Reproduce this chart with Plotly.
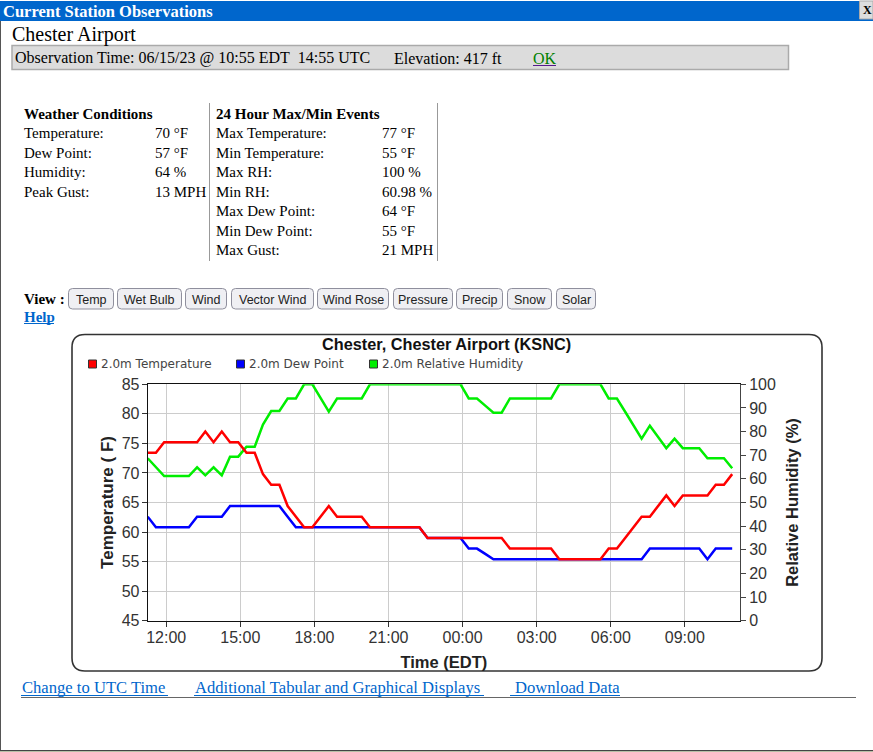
"""
Current station observations panel, Chester Airport (KSNC).
"""

import pandas as pd
import plotly.graph_objects as go

W, H = 873, 752

# -- Data -------------------------------------------------------------------
TIMES = pd.date_range("2023-06-14 11:15", periods=72, freq="20min")

TEMP = [73.4, 73.4, 75.2, 75.2, 75.2, 75.2, 75.2, 77, 75.2, 77, 75.2, 75.2,
        73.4, 73.4, 69.8, 68, 68, 64.4, 62.6, 60.8, 60.8, 62.6, 64.4, 62.6,
        62.6, 62.6, 62.6, 60.8, 60.8, 60.8, 60.8, 60.8, 60.8, 60.8, 59, 59,
        59, 59, 59, 59, 59, 59, 59, 59, 57.2, 57.2, 57.2, 57.2, 57.2, 57.2,
        55.4, 55.4, 55.4, 55.4, 55.4, 55.4, 57.2, 57.2, 59, 60.8, 62.6, 62.6,
        64.4, 66.2, 64.4, 66.2, 66.2, 66.2, 66.2, 68, 68, 69.8]

DEW = [62.6, 60.8, 60.8, 60.8, 60.8, 60.8, 62.6, 62.6, 62.6, 62.6, 64.4, 64.4,
       64.4, 64.4, 64.4, 64.4, 64.4, 62.6, 60.8, 60.8, 60.8, 60.8, 60.8, 60.8,
       60.8, 60.8, 60.8, 60.8, 60.8, 60.8, 60.8, 60.8, 60.8, 60.8, 59, 59,
       59, 59, 59, 57.2, 57.2, 56.3, 55.4, 55.4, 55.4, 55.4, 55.4, 55.4, 55.4,
       55.4, 55.4, 55.4, 55.4, 55.4, 55.4, 55.4, 55.4, 55.4, 55.4, 55.4, 55.4,
       57.2, 57.2, 57.2, 57.2, 57.2, 57.2, 57.2, 55.4, 57.2, 57.2, 57.2]

RH = [68.7, 65, 61.2, 61.2, 61.2, 61.2, 64.9, 61.5, 64.9, 61.5, 69.4, 69.4,
      73.6, 73.6, 83, 88.7, 88.7, 94, 94, 100, 100, 94, 88.4, 94,
      94, 94, 94, 100, 100, 100, 100, 100, 100, 100, 100, 100,
      100, 100, 100, 94, 94, 91, 88, 88, 94, 94, 94, 94, 94, 94,
      100, 100, 100, 100, 100, 100, 94, 94, 88.4, 82.8, 77, 82.5,
      78, 73, 77, 73, 73, 73, 68.7, 68.7, 68.7, 64.5]

X_TICKS = ["2023-06-14 12:00", "2023-06-14 15:00", "2023-06-14 18:00",
           "2023-06-14 21:00", "2023-06-15 00:00", "2023-06-15 03:00",
           "2023-06-15 06:00", "2023-06-15 09:00"]

COND_LABELS = ["Temperature:", "Dew Point:", "Humidity:", "Peak Gust:"]
COND_VALUES = ["70 °F", "57 °F", "64 %", "13 MPH"]
EVENT_LABELS = ["Max Temperature:", "Min Temperature:", "Max RH:", "Min RH:",
                "Max Dew Point:", "Min Dew Point:", "Max Gust:"]
EVENT_VALUES = ["77 °F", "55 °F", "100 %", "60.98 %", "64 °F", "55 °F", "21 MPH"]
BUTTONS = ["Temp", "Wet Bulb", "Wind", "Vector Wind", "Wind Rose", "Pressure",
           "Precip", "Snow", "Solar"]

# Colours
RED = "#ff0000"
BLUE = "#0000ff"
GREEN = "#00ee00"
LINK = "#0066cc"
SERIF = "Liberation Serif"
SANS = "Liberation Sans"

# -- Helpers (pixel positions on the page) ------------------------------------
shapes = []
notes = []


def px(x):
    return x / W


def py(y):
    return 1 - y / H


def text(x, y, s, size=15, color="black", family=SERIF, anchor="left"):
    notes.append(dict(x=px(x), y=py(y), xref="paper", yref="paper", text=s,
                      showarrow=False, xanchor=anchor, yanchor="middle",
                      font=dict(size=size, color=color, family=family),
                      borderpad=0, borderwidth=0))


def rect(x0, y0, x1, y1, fill, line=None, width=1):
    shapes.append(dict(type="rect", xref="paper", yref="paper",
                       x0=px(x0), x1=px(x1), y0=py(y0), y1=py(y1),
                       fillcolor=fill, line=dict(color=line, width=width if line else 0),
                       layer="below"))


def hline(x0, x1, y, color, width=1):
    shapes.append(dict(type="line", xref="paper", yref="paper",
                       x0=px(x0), x1=px(x1), y0=py(y), y1=py(y),
                       line=dict(color=color, width=width)))


def vline(x, y0, y1, color, width=1):
    shapes.append(dict(type="line", xref="paper", yref="paper",
                       x0=px(x), x1=px(x), y0=py(y0), y1=py(y1),
                       line=dict(color=color, width=width)))


def round_box(x0, y0, x1, y1, r, fill, line, width=1):
    a0, a1 = px(x0), px(x1)
    b0, b1 = py(y0), py(y1)
    rx, ry = r / W, r / H
    path = (f"M {a0 + rx} {b0} L {a1 - rx} {b0} Q {a1} {b0} {a1} {b0 - ry} "
            f"L {a1} {b1 + ry} Q {a1} {b1} {a1 - rx} {b1} "
            f"L {a0 + rx} {b1} Q {a0} {b1} {a0} {b1 + ry} "
            f"L {a0} {b0 - ry} Q {a0} {b0} {a0 + rx} {b0} Z")
    shapes.append(dict(type="path", xref="paper", yref="paper", path=path,
                       fillcolor=fill, line=dict(color=line, width=width), layer="below"))


# -- Page furniture -----------------------------------------------------------
rect(0, 1, W, 21, LINK)
rect(859.5, 1, W, 19, "#dddddd", "#aaaaaa")
text(3, 11, "<b>Current Station Observations</b>", size=16.5, color="white")
text(862.5, 10, "<b>X</b>", size=12)
vline(0.5, 21, 750, "#555555")
hline(0, W, 750.5, "#444444")
rect(0, 751, W, 752, "#b9bfa6")

text(12, 34, "Chester Airport", size=20)
rect(12, 45.5, 788.5, 69.5, "#dcdcdc", "#aaaaaa", 1.5)
text(15, 58, "Observation Time: 06/15/23 @ 10:55 EDT&nbsp;&nbsp;14:55 UTC", size=16)
text(394, 58, "Elevation: 417 ft", size=16)
text(533, 58, "OK", size=16, color="#008000")
hline(533, 556, 65.5, "#551a8b")

# Tables
vline(209.5, 103, 261, "#999999")
vline(437.5, 103, 261, "#999999")
text(24, 114, "<b>Weather Conditions</b>", size=15)
text(216, 114, "<b>24 Hour Max/Min Events</b>", size=15)
COND_ROWS = [133, 153, 172, 192]
EVENT_ROWS = [133, 153, 172, 192, 211, 231, 250]
for lab, val, y in zip(COND_LABELS, COND_VALUES, COND_ROWS):
    text(24, y, lab, size=15)
    text(155, y, val, size=15)
for lab, val, y in zip(EVENT_LABELS, EVENT_VALUES, EVENT_ROWS):
    text(216, y, lab, size=15)
    text(382, y, val, size=15)

# View buttons
text(24, 299, "<b>View :</b>", size=15)
BUTTON_LEFT = [68, 117, 185, 231, 317, 393, 456, 507, 556]
BUTTON_RIGHT = [113, 181, 226, 313, 388, 452, 502, 551, 595]
for lab, x0, x1 in zip(BUTTONS, BUTTON_LEFT, BUTTON_RIGHT):
    round_box(x0 + 0.5, 288.5, x1 + 0.5, 309, 4, "#efeff3", "#8f8f9d")
    text((x0 + x1) / 2 + 0.5, 300, lab, size=12.5, color="#222222", family=SANS, anchor="center")
text(24, 317, "<b>Help</b>", size=15, color=LINK)
hline(24, 54, 323.5, LINK)

# Chart frame
round_box(72, 334.5, 822, 671, 13, "white", "#333333", 1.6)
text(447, 344, "<b>Chester, Chester Airport (KSNC)</b>", size=16.3, color="#111111",
     family=SANS, anchor="center")

LEGEND_NAMES = ["2.0m Temperature", "2.0m Dew Point", "2.0m Relative Humidity"]
LEGEND_COLORS = [RED, BLUE, GREEN]
LEGEND_X = [88.5, 236.5, 369.5]
for name, col, x in zip(LEGEND_NAMES, LEGEND_COLORS, LEGEND_X):
    rect(x, 360, x + 8, 368, col, "#333333", 1)
    text(x + 12.5, 364, name, size=12, color="#444444", family="DejaVu Sans")

# Bottom links
text(22, 687, "Change to UTC Time", size=16.6, color=LINK)
text(195, 687, "Additional Tabular and Graphical Displays", size=16.6, color=LINK)
text(515, 687, "Download Data", size=16.6, color=LINK)
hline(21, 168, 695.5, LINK)
hline(194, 484, 695.5, LINK)
hline(510, 620, 695.5, LINK)
hline(21, 856, 697.5, "#666666")

# -- Figure -------------------------------------------------------------------
fig = go.Figure()

# humidity sits on the base axes so temperature and dew point draw over it
fig.add_trace(go.Scatter(x=TIMES, y=RH, mode="lines", name="2.0m Relative Humidity",
                         line=dict(color=GREEN, width=2.5), yaxis="y"))
fig.add_trace(go.Scatter(x=TIMES, y=DEW, mode="lines", name="2.0m Dew Point",
                         line=dict(color=BLUE, width=2.5), yaxis="y2"))
fig.add_trace(go.Scatter(x=TIMES, y=TEMP, mode="lines", name="2.0m Temperature",
                         line=dict(color=RED, width=2.5), yaxis="y2"))

TICK_FONT = dict(size=16, color="#333333", family=SANS)
TITLE_FONT = dict(size=16.5, color="#222222", family=SANS)

fig.update_layout(
    width=W,
    height=H,
    margin=dict(l=0, r=0, t=0, b=0, autoexpand=False),
    paper_bgcolor="white",
    plot_bgcolor="rgba(0,0,0,0)",
    showlegend=False,
    shapes=shapes,
    annotations=notes,
    xaxis=dict(
        domain=[px(147.7), px(740)],
        type="date",
        range=["2023-06-14 11:15", "2023-06-15 11:14"],
        tickvals=X_TICKS,
        tickformat="%H:%M",
        ticks="outside",
        ticklen=5,
        ticklabelstandoff=-3,
        tickcolor="#333333",
        tickfont=TICK_FONT,
        showgrid=True,
        gridcolor="#cccccc",
        gridwidth=1,
        showline=True,
        linecolor="#111111",
        mirror=True,
        automargin=False,
        title=dict(text="<b>Time (EDT)</b>", font=TITLE_FONT, standoff=11),
    ),
    yaxis=dict(
        domain=[py(620.7), py(384.3)],
        range=[0, 100],
        side="right",
        dtick=10,
        ticks="outside",
        ticklen=5,
        tickcolor="#444444",
        tickfont=TICK_FONT,
        showgrid=False,
        zeroline=False,
        showline=True,
        linecolor="#444444",
        automargin=False,
        title=dict(text="<b>Relative Humidity (%)</b>", font=TITLE_FONT, standoff=11),
    ),
    yaxis2=dict(
        overlaying="y",
        side="left",
        anchor="x",
        range=[45, 85],
        dtick=5,
        ticks="outside",
        ticklen=5,
        ticklabelstandoff=-1,
        tickcolor="#333333",
        tickfont=TICK_FONT,
        showgrid=True,
        gridcolor="#cccccc",
        gridwidth=1,
        zeroline=False,
        showline=True,
        linecolor="#111111",
        automargin=False,
        title=dict(text="<b>Temperature ( F)</b>", font=dict(size=17, color="#222222", family=SANS), standoff=3),
    ),
)

# the page default leaves an 8px body margin, the panel starts at the window edge
fig.write_html("out.html", config=dict(displayModeBar=False),
               post_script="document.body.style.margin = '0';")
